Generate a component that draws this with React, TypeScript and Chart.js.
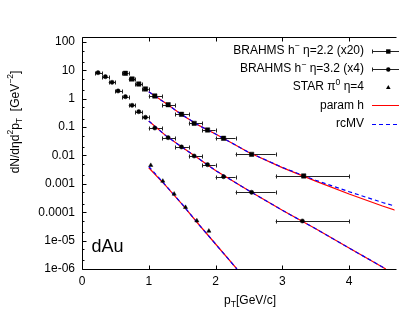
import { useEffect, useRef } from 'react';
import { Chart, registerables } from 'chart.js';

Chart.register(...registerables);

const FONT = '"Liberation Sans", Arial, Helvetica, sans-serif';

// axis ticks
const xTickValues = [0, 1, 2, 3, 4];
const yTickValues = [1e-6, 1e-5, 1e-4, 1e-3, 1e-2, 1e-1, 1, 10, 100];
const yTickLabels = ['1e-06', '1e-05', '0.0001', '0.001', '0.01', '0.1', '1', '10', '100'];

// BRAHMS h- eta=2.2 (x20)
const b22X = [0.65, 0.75, 0.85, 0.95, 1.09, 1.29, 1.49, 1.68, 1.88, 2.12, 2.54, 3.32];
const b22Y = [7.88, 4.97, 3.31, 2.21, 1.25, 0.617, 0.283, 0.136, 0.0792, 0.0404, 0.011, 0.0019];
const b22Lo = [0.6, 0.7, 0.8, 0.9, 1.0, 1.2, 1.4, 1.6, 1.8, 2.0, 2.3, 2.9];
const b22Hi = [0.7, 0.8, 0.9, 1.0, 1.2, 1.4, 1.6, 1.8, 2.0, 2.3, 2.9, 4.0];

// BRAHMS h- eta=3.2 (x4)
const b32X = [0.24, 0.35, 0.45, 0.54, 0.65, 0.75, 0.85, 0.95, 1.09, 1.29, 1.49, 1.68, 1.88, 2.12, 2.54, 3.3];
const b32Y = [8.28, 5.98, 3.8, 1.88, 1.18, 0.588, 0.35, 0.222, 0.0931, 0.0424, 0.02, 0.0096, 0.00474, 0.00179, 0.000505, 4.92e-5];
const b32Lo = [0.2, 0.3, 0.4, 0.5, 0.6, 0.7, 0.8, 0.9, 1.0, 1.2, 1.4, 1.6, 1.8, 2.0, 2.3, 2.9];
const b32Hi = [0.3, 0.4, 0.5, 0.6, 0.7, 0.8, 0.9, 1.0, 1.2, 1.4, 1.6, 1.8, 2.0, 2.3, 2.9, 4.0];

// STAR pi0 eta=4
const starX = [1.03, 1.21, 1.38, 1.55, 1.72, 1.9];
const starY = [0.00452, 0.00126, 0.00044, 0.00015, 5.04e-5, 2.18e-5];

// curves: param h (red) and rcMV (blue dashed)
const curveAX = [1.0, 1.25, 1.5, 1.75, 2.0, 2.5, 3.0, 3.5, 4.0, 4.5, 4.7];
const paramAY = [1.76, 0.703, 0.27, 0.115, 0.0573, 0.01276, 0.00375, 0.00125, 0.00044, 0.000166, 0.000116];
const rcmvAY = [1.76, 0.703, 0.27, 0.115, 0.0573, 0.01276, 0.0038, 0.00134, 0.00053, 0.000221, 0.000162];

const curveBX = [1.0, 1.25, 1.5, 1.75, 2.0, 2.5, 3.0, 3.5, 4.0, 4.55];
const paramBY = [0.164, 0.0511, 0.0195, 0.00771, 0.00296, 0.00057, 0.000117, 2.61e-5, 5.5e-6, 1.0e-6];
const rcmvBY = [0.164, 0.0511, 0.0195, 0.00771, 0.00296, 0.00057, 0.000117, 2.61e-5, 5.5e-6, 1.0e-6];

const curveCX = [1.0, 1.25, 1.5, 1.75, 2.0, 2.32];
const paramCY = [0.0037, 0.00088, 0.00019, 3.7e-5, 7.6e-6, 1.0e-6];
const rcmvCY = [0.0041, 0.0009, 0.000192, 3.7e-5, 7.6e-6, 1.0e-6];

type Piece = { t: string; s?: 'sup' | 'sub' };

const legendRows: { pieces: Piece[]; kind: string }[] = [
  { pieces: [{ t: 'BRAHMS h' }, { t: '−', s: 'sup' }, { t: ' η=2.2 (x20)' }], kind: 'rect' },
  { pieces: [{ t: 'BRAHMS h' }, { t: '−', s: 'sup' }, { t: ' η=3.2 (x4)' }], kind: 'circle' },
  { pieces: [{ t: 'STAR π' }, { t: '0', s: 'sup' }, { t: ' η=4' }], kind: 'triangle' },
  { pieces: [{ t: 'param h' }], kind: 'red' },
  { pieces: [{ t: 'rcMV' }], kind: 'blue' },
];

const yTitle: Piece[] = [
  { t: 'dN/dηd' }, { t: '2', s: 'sup' }, { t: 'p' }, { t: 'T', s: 'sub' },
  { t: '  [GeV' }, { t: '−2', s: 'sup' }, { t: ']' },
];
const xTitle: Piece[] = [{ t: 'p' }, { t: 'T', s: 'sub' }, { t: '[GeV/c]' }];
const panelLabel = 'dAu';

function font(size: number) {
  return `${size}px ${FONT}`;
}

function drawRich(ctx: CanvasRenderingContext2D, pieces: Piece[], x: number, y: number, size: number, align: 'left' | 'right' | 'center') {
  const small = size * 0.72;
  let w = 0;
  for (const p of pieces) {
    ctx.font = font(p.s ? small : size);
    w += ctx.measureText(p.t).width;
  }
  let cx = align === 'right' ? x - w : align === 'center' ? x - w / 2 : x;
  ctx.textAlign = 'left';
  ctx.textBaseline = 'middle';
  for (const p of pieces) {
    ctx.font = font(p.s ? small : size);
    const dy = p.s === 'sup' ? -size * 0.38 : p.s === 'sub' ? size * 0.32 : 0;
    ctx.fillText(p.t, cx, y + dy);
    cx += ctx.measureText(p.t).width;
  }
}

function drawMarker(ctx: CanvasRenderingContext2D, kind: string, x: number, y: number) {
  ctx.fillStyle = '#000';
  ctx.beginPath();
  if (kind === 'rect') {
    ctx.rect(x - 2.2, y - 2.2, 4.4, 4.4);
  } else if (kind === 'circle') {
    ctx.arc(x, y, 2.2, 0, Math.PI * 2);
  } else {
    ctx.moveTo(x, y - 2.6);
    ctx.lineTo(x + 2.3, y + 1.6);
    ctx.lineTo(x - 2.3, y + 1.6);
    ctx.closePath();
  }
  ctx.fill();
}

const errorBarPlugin = {
  id: 'errorBars',
  beforeDatasetsDraw(chart: any) {
    const ctx: CanvasRenderingContext2D = chart.ctx;
    const xs = chart.scales.x;
    const ys = chart.scales.y;
    ctx.save();
    ctx.strokeStyle = '#222';
    ctx.lineWidth = 1;
    const sets = [
      { x: b22X, y: b22Y, lo: b22Lo, hi: b22Hi },
      { x: b32X, y: b32Y, lo: b32Lo, hi: b32Hi },
    ];
    for (const s of sets) {
      for (let i = 0; i < s.x.length; i++) {
        const x1 = xs.getPixelForValue(s.lo[i]);
        const x2 = xs.getPixelForValue(s.hi[i]);
        const y = Math.round(ys.getPixelForValue(s.y[i])) + 0.5;
        ctx.beginPath();
        ctx.moveTo(x1, y);
        ctx.lineTo(x2, y);
        ctx.moveTo(Math.round(x1) + 0.5, y - 2);
        ctx.lineTo(Math.round(x1) + 0.5, y + 2);
        ctx.moveTo(Math.round(x2) + 0.5, y - 2);
        ctx.lineTo(Math.round(x2) + 0.5, y + 2);
        ctx.stroke();
      }
    }
    ctx.restore();
  },
};

const framePlugin = {
  id: 'frame',
  afterDraw(chart: any) {
    const ctx: CanvasRenderingContext2D = chart.ctx;
    const { left, right, top, bottom } = chart.chartArea;
    const xs = chart.scales.x;
    const ys = chart.scales.y;
    const L = Math.round(left) + 0.5;
    const T = Math.round(top) + 0.5;
    const B = Math.round(bottom) + 0.5;
    ctx.save();
    ctx.strokeStyle = '#000';
    ctx.lineWidth = 1;
    ctx.beginPath();
    ctx.moveTo(right + 2, T);
    ctx.lineTo(L, T);
    ctx.lineTo(L, B);
    ctx.lineTo(right + 2, B);
    for (const v of xTickValues) {
      const px = Math.round(xs.getPixelForValue(v)) + 0.5;
      ctx.moveTo(px, B);
      ctx.lineTo(px, B - 4);
      ctx.moveTo(px, T);
      ctx.lineTo(px, T + 4);
    }
    for (const v of yTickValues) {
      const py = Math.round(ys.getPixelForValue(v)) + 0.5;
      ctx.moveTo(L, py);
      ctx.lineTo(L + 4, py);
      for (const m of [2, 5]) {
        const mv = v * m;
        if (mv < ys.max) {
          const pm = Math.round(ys.getPixelForValue(mv)) + 0.5;
          ctx.moveTo(L, pm);
          ctx.lineTo(L + 2, pm);
        }
      }
    }
    ctx.stroke();

    // axis titles
    ctx.fillStyle = '#000';
    drawRich(ctx, xTitle, 250, 301, 12, 'center');
    ctx.save();
    ctx.translate(15.5, 122);
    ctx.rotate(-Math.PI / 2);
    drawRich(ctx, yTitle, 0, 0, 12, 'center');
    ctx.restore();

    // panel label
    ctx.font = font(18);
    ctx.textAlign = 'left';
    ctx.textBaseline = 'alphabetic';
    ctx.fillText(panelLabel, 91.5, 252);

    // legend
    const rowY = [50.5, 68.8, 87.1, 105.4, 123.7];
    const textRight = 364;
    const sx1 = 372;
    const sx2 = 405;
    const mx = 388.3;
    legendRows.forEach((row, i) => {
      const y = rowY[i];
      ctx.fillStyle = '#000';
      drawRich(ctx, row.pieces, textRight, y, 12, 'right');
      const yy = Math.round(y) + 0.5;
      if (row.kind === 'rect' || row.kind === 'circle') {
        ctx.strokeStyle = '#222';
        ctx.lineWidth = 1;
        ctx.setLineDash([]);
        ctx.beginPath();
        ctx.moveTo(sx1, yy);
        ctx.lineTo(sx2, yy);
        ctx.moveTo(sx1 + 0.5, yy - 2);
        ctx.lineTo(sx1 + 0.5, yy + 2);
        ctx.stroke();
        drawMarker(ctx, row.kind, mx, yy);
      } else if (row.kind === 'triangle') {
        drawMarker(ctx, 'triangle', mx, yy);
      } else {
        ctx.strokeStyle = row.kind === 'red' ? '#ff0000' : '#0000ff';
        ctx.lineWidth = 1.2;
        ctx.setLineDash(row.kind === 'red' ? [] : [4, 3]);
        ctx.beginPath();
        ctx.moveTo(sx1, yy);
        ctx.lineTo(sx2, yy);
        ctx.stroke();
        ctx.setLineDash([]);
      }
    });
    ctx.restore();
  },
};

function pts(xs: number[], ys: number[]) {
  return xs.map((x, i) => ({ x, y: ys[i] }));
}

function lineSet(xs: number[], ys: number[], color: string, dash: number[]) {
  return {
    data: pts(xs, ys),
    showLine: true,
    borderColor: color,
    backgroundColor: color,
    borderWidth: 1.2,
    borderDash: dash,
    pointRadius: 0,
    fill: false,
    tension: 0,
  };
}

export default function App() {
  const ref = useRef<HTMLCanvasElement>(null);
  useEffect(() => {
    if (!ref.current) return;
    Chart.defaults.font.family = FONT;
    Chart.defaults.color = '#000';
    const chart = new Chart(ref.current, {
      type: 'scatter',
      data: {
        datasets: [
          { data: pts(b22X, b22Y), pointStyle: 'rect', pointRadius: 3.1, backgroundColor: '#000', borderColor: '#000', borderWidth: 0.5 },
          { data: pts(b32X, b32Y), pointStyle: 'circle', pointRadius: 2.1, backgroundColor: '#000', borderColor: '#000', borderWidth: 0.5 },
          { data: pts(starX, starY), pointStyle: 'triangle', pointRadius: 2.4, backgroundColor: '#000', borderColor: '#000', borderWidth: 0.5 },
          lineSet(curveAX, rcmvAY, '#0000ff', [4, 3]),
          lineSet(curveBX, rcmvBY, '#0000ff', [4, 3]),
          lineSet(curveCX, rcmvCY, '#0000ff', [4, 3]),
          lineSet(curveAX, paramAY, '#ff0000', []),
          lineSet(curveBX, paramBY, '#ff0000', []),
          lineSet(curveCX, paramCY, '#ff0000', []),
        ] as any,
      },
      options: {
        responsive: false,
        animation: false,
        devicePixelRatio: 1,
        events: [],
        layout: { padding: { top: 37, left: 0, right: 0, bottom: 0 } },
        plugins: { legend: { display: false }, tooltip: { enabled: false } },
        scales: {
          x: {
            type: 'linear',
            min: 0,
            max: 4.68,
            grid: { display: false, drawTicks: false },
            border: { display: false },
            ticks: {
              stepSize: 1,
              includeBounds: false,
              padding: 5,
              maxRotation: 0,
              autoSkip: false,
              font: { size: 12, family: FONT },
              color: '#000',
            },
            afterFit: (s: any) => { s.height = 40; },
          },
          y: {
            type: 'logarithmic',
            min: 1e-6,
            max: 150,
            grid: { display: false, drawTicks: false },
            border: { display: false },
            afterBuildTicks: (s: any) => { s.ticks = yTickValues.map((v) => ({ value: v })); },
            ticks: {
              padding: 7,
              autoSkip: false,
              font: { size: 12, family: FONT },
              color: '#000',
              callback: (v: any) => {
                const i = yTickValues.findIndex((t) => Math.abs(Math.log10(t) - Math.log10(Number(v))) < 1e-6);
                return i >= 0 ? yTickLabels[i] : '';
              },
            },
            afterFit: (s: any) => { s.width = 82; },
          },
        },
      } as any,
      plugins: [errorBarPlugin, framePlugin],
    });
    return () => chart.destroy();
  }, []);
  return (
    <div style={{ position: 'absolute', left: 0, top: 0, width: 399, height: 309, background: '#fff' }}>
      <canvas ref={ref} width={399} height={309} style={{ display: 'block' }} />
    </div>
  );
}
